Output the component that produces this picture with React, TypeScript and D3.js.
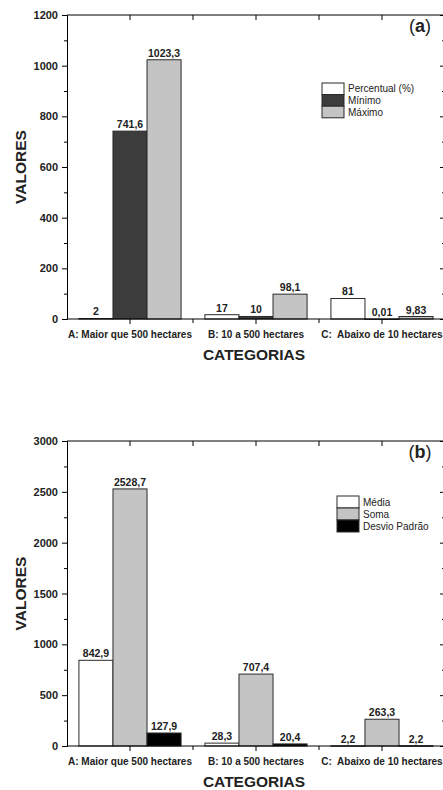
import React, { useEffect, useRef } from 'react';
import * as d3 from 'd3';

const categories = ['A: Maior que 500 hectares', 'B: 10 a 500 hectares', 'C:  Abaixo de 10 hectares'];

// panel (a)
const seriesA = ['Percentual (%)', 'Mínimo', 'Máximo'];
const percentual = [2, 17, 81];
const minimo = [741.6, 10, 0.01];
const maximo = [1023.3, 98.1, 9.83];
const ticksA = [0, 200, 400, 600, 800, 1000, 1200];

// panel (b)
const seriesB = ['Média', 'Soma', 'Desvio Padrão'];
const media = [842.9, 28.3, 2.2];
const soma = [2528.7, 707.4, 263.3];
const desvio = [127.9, 20.4, 2.2];
const ticksB = [0, 500, 1000, 1500, 2000, 2500, 3000];

const FONT = '"Liberation Sans", Arial, sans-serif';

type PanelProps = {
	svg: d3.Selection<SVGGElement, unknown, null, undefined>;
	top: number;
	bottom: number;
	yMax: number;
	ticks: number[];
	minorStep: number;
	series: string[];
	values: number[][];
	colors: string[];
	tag: string;
	legendX: number;
	legendY: number;
	legendRow: number;
};

const fmt = (v: number) => String(v).replace('.', ',');

function drawPanel(p: PanelProps) {
	const left = 67, right = 445;
	const g = p.svg.append('g');

	const x = d3.scaleBand<string>().domain(categories).range([left, right]).padding(0);
	const xs = d3.scaleBand<string>().domain(p.series).range([0, x.bandwidth()]).paddingInner(0).paddingOuter(0.35);
	const y = d3.scaleLinear().domain([0, p.yMax]).range([p.bottom, p.top]);

	const minor = d3.range(0, p.yMax + 1, p.minorStep).filter(v => !p.ticks.includes(v));
	const bounds = [categories[1], categories[2]].map(c => x(c)!);

	// bars
	p.series.forEach((s, si) => {
		categories.forEach((c, ci) => {
			const v = p.values[si][ci];
			const bx = x(c)! + xs(s)!;
			g.append('rect')
				.attr('x', bx)
				.attr('y', y(v))
				.attr('width', xs.bandwidth())
				.attr('height', Math.max(0.5, p.bottom - y(v)))
				.attr('fill', p.colors[si])
				.attr('stroke', '#2a2a2a')
				.attr('stroke-width', 1);
			g.append('text')
				.attr('x', bx + xs.bandwidth() / 2)
				.attr('y', y(v) - 3)
				.attr('text-anchor', 'middle')
				.attr('font-family', FONT)
				.attr('font-weight', 'bold')
				.attr('font-size', 10.5)
				.attr('fill', '#222')
				.text(fmt(v));
		});
	});

	// left axis
	const yl = g.append('g').attr('transform', `translate(${left},0)`)
		.call(d3.axisLeft(y).tickValues(p.ticks).tickSize(5).tickPadding(4).tickFormat(d => String(d)));
	yl.selectAll('text').attr('font-family', FONT).attr('font-weight', 'bold').attr('font-size', 11).attr('fill', '#222');
	g.append('g').attr('transform', `translate(${left},0)`)
		.call(d3.axisLeft(y).tickValues(minor).tickSize(3).tickFormat(() => ''))
		.select('.domain').remove();

	// right axis (mirror, ticks inward; its line falls just past the picture's edge)
	g.append('g').attr('transform', `translate(${right + 1},0)`)
		.call(d3.axisLeft(y).tickValues(p.ticks).tickSize(6).tickFormat(() => ''));
	g.append('g').attr('transform', `translate(${right + 1},0)`)
		.call(d3.axisLeft(y).tickValues(minor).tickSize(4).tickFormat(() => ''))
		.select('.domain').remove();

	// bottom axis
	const xb = g.append('g').attr('transform', `translate(0,${p.bottom})`)
		.call(d3.axisBottom(x).tickSize(5).tickPadding(7).tickSizeOuter(0));
	xb.selectAll('text')
		.attr('font-family', FONT).attr('font-weight', 'bold').attr('font-size', 10).attr('fill', '#222')
		.style('white-space', 'pre');
	xb.select('.domain').attr('d', `M${left},0H${right}`);
	bounds.forEach(b => {
		g.append('line').attr('x1', b).attr('x2', b).attr('y1', p.bottom).attr('y2', p.bottom + 4).attr('stroke', '#000');
	});

	// top axis (mirror, ticks inward)
	const xt = g.append('g').attr('transform', `translate(0,${p.top})`)
		.call(d3.axisBottom(x).tickSize(5).tickFormat(() => '').tickSizeOuter(0));
	xt.select('.domain').attr('d', `M${left},0H${right}`);
	bounds.forEach(b => {
		g.append('line').attr('x1', b).attr('x2', b).attr('y1', p.top).attr('y2', p.top + 5).attr('stroke', '#000');
	});

	// axis titles
	g.append('text')
		.attr('transform', `translate(26,${(p.top + p.bottom) / 2}) rotate(-90)`)
		.attr('text-anchor', 'middle')
		.attr('font-family', FONT).attr('font-weight', 'bold').attr('font-size', 15.5).attr('fill', '#222')
		.text('VALORES');
	g.append('text')
		.attr('x', (left + right) / 2 - 2)
		.attr('y', p.bottom + 41)
		.attr('text-anchor', 'middle')
		.attr('font-family', FONT).attr('font-weight', 'bold').attr('font-size', 15.5).attr('fill', '#222')
		.text('CATEGORIAS');

	// panel tag
	const tag = g.append('text')
		.attr('x', 420).attr('y', p.top + 17)
		.attr('text-anchor', 'middle')
		.attr('font-family', FONT).attr('font-size', 18).attr('fill', '#222');
	tag.append('tspan').text('(');
	tag.append('tspan').attr('font-weight', 'bold').text(p.tag);
	tag.append('tspan').text(')');

	// legend
	p.series.forEach((s, i) => {
		const ly = p.legendY + i * p.legendRow;
		g.append('rect')
			.attr('x', p.legendX).attr('y', ly)
			.attr('width', 22).attr('height', p.legendRow)
			.attr('fill', p.colors[i]).attr('stroke', '#2a2a2a');
		g.append('text')
			.attr('x', p.legendX + 26).attr('y', ly + p.legendRow / 2)
			.attr('dy', '0.35em')
			.attr('font-family', FONT).attr('font-size', 10).attr('fill', '#222')
			.text(s);
	});
}

export default function App() {
	const ref = useRef<SVGSVGElement>(null);

	useEffect(() => {
		const root = d3.select(ref.current);
		root.selectAll('*').remove();
		const svg = root.append('g') as any;

		drawPanel({
			svg, top: 15, bottom: 319, yMax: 1200, ticks: ticksA, minorStep: 100,
			series: seriesA, values: [percentual, minimo, maximo],
			colors: ['#ffffff', '#3c3c3c', '#c4c4c4'], tag: 'a',
			legendX: 322, legendY: 83, legendRow: 11.6,
		});
		drawPanel({
			svg, top: 441, bottom: 746, yMax: 3000, ticks: ticksB, minorStep: 250,
			series: seriesB, values: [media, soma, desvio],
			colors: ['#ffffff', '#c4c4c4', '#000000'], tag: 'b',
			legendX: 337, legendY: 496, legendRow: 12,
		});
	}, []);

	return (
		<svg ref={ref} width={443} height={790}
			style={{ position: 'absolute', left: 0, top: 0, background: '#fff' }} />
	);
}
